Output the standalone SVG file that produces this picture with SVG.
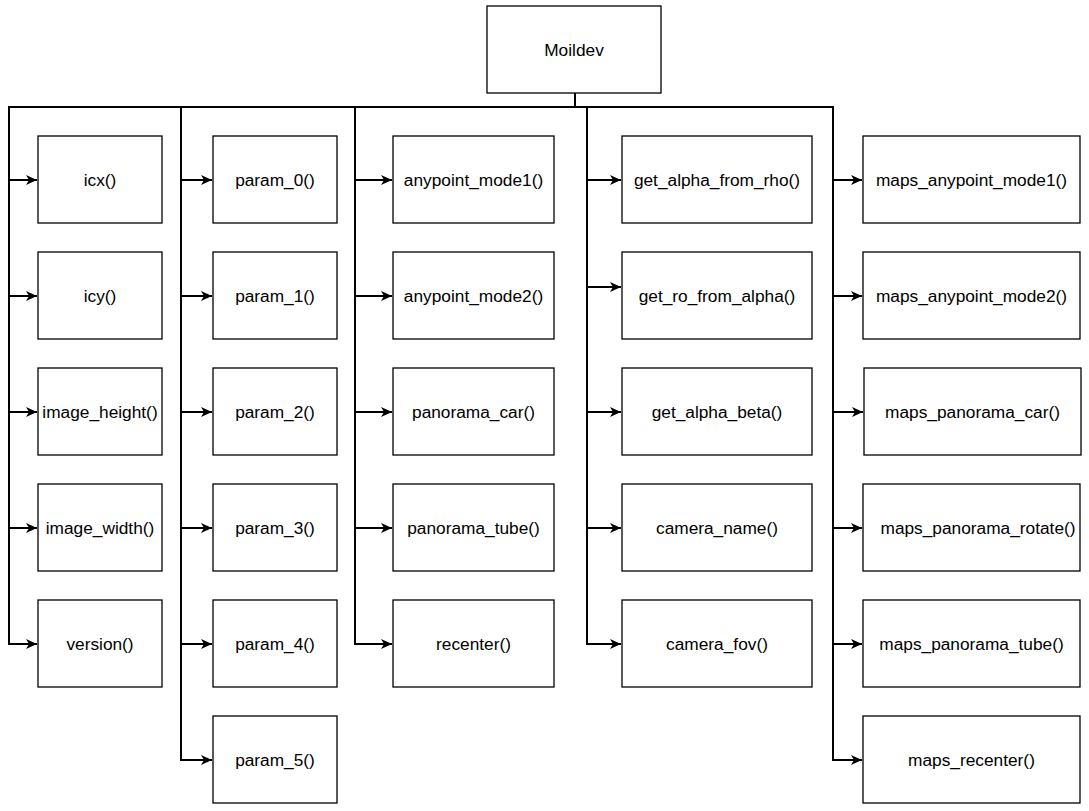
<svg xmlns="http://www.w3.org/2000/svg" width="1089" height="811" viewBox="0 0 1089 811">
<style>
.box{fill:#fff;stroke:#000;stroke-width:1.3}
.lbl{font-family:"Liberation Sans",Arial,sans-serif;font-size:17.3px;fill:#000;text-anchor:middle;dominant-baseline:central}
.edge{fill:none;stroke:#000;stroke-width:2}
</style>
<defs>
<marker id="arr" markerUnits="userSpaceOnUse" markerWidth="14" markerHeight="14" refX="12" refY="7" orient="auto">
<path d="M1,2 L12,7 L1,12 L4,7 Z" fill="#000"/>
</marker>
</defs>
<rect width="1089" height="811" fill="#fff"/>
<g id="connectors">
<path class="edge" d="M575,93 V107 H9 V180 H37" marker-end="url(#arr)"/>
<path class="edge" d="M575,93 V107 H9 V296 H37" marker-end="url(#arr)"/>
<path class="edge" d="M575,93 V107 H9 V412 H37" marker-end="url(#arr)"/>
<path class="edge" d="M575,93 V107 H9 V528 H37" marker-end="url(#arr)"/>
<path class="edge" d="M575,93 V107 H9 V644 H37" marker-end="url(#arr)"/>
<path class="edge" d="M575,93 V107 H181 V180 H212" marker-end="url(#arr)"/>
<path class="edge" d="M575,93 V107 H181 V296 H212" marker-end="url(#arr)"/>
<path class="edge" d="M575,93 V107 H181 V412 H212" marker-end="url(#arr)"/>
<path class="edge" d="M575,93 V107 H181 V528 H212" marker-end="url(#arr)"/>
<path class="edge" d="M575,93 V107 H181 V644 H212" marker-end="url(#arr)"/>
<path class="edge" d="M575,93 V107 H181 V760 H212" marker-end="url(#arr)"/>
<path class="edge" d="M575,93 V107 H355 V180 H392" marker-end="url(#arr)"/>
<path class="edge" d="M575,93 V107 H355 V296 H392" marker-end="url(#arr)"/>
<path class="edge" d="M575,93 V107 H355 V412 H392" marker-end="url(#arr)"/>
<path class="edge" d="M575,93 V107 H355 V528 H392" marker-end="url(#arr)"/>
<path class="edge" d="M575,93 V107 H355 V644 H392" marker-end="url(#arr)"/>
<path class="edge" d="M575,93 V107 H587 V180 H621" marker-end="url(#arr)"/>
<path class="edge" d="M575,93 V107 H587 V287 H621" marker-end="url(#arr)"/>
<path class="edge" d="M575,93 V107 H587 V412 H621" marker-end="url(#arr)"/>
<path class="edge" d="M575,93 V107 H587 V528 H621" marker-end="url(#arr)"/>
<path class="edge" d="M575,93 V107 H587 V644 H621" marker-end="url(#arr)"/>
<path class="edge" d="M575,93 V107 H833 V180 H862" marker-end="url(#arr)"/>
<path class="edge" d="M575,93 V107 H833 V296 H862" marker-end="url(#arr)"/>
<path class="edge" d="M575,93 V107 H833 V412 H863" marker-end="url(#arr)"/>
<path class="edge" d="M575,93 V107 H833 V528 H862" marker-end="url(#arr)"/>
<path class="edge" d="M575,93 V107 H833 V644 H862" marker-end="url(#arr)"/>
<path class="edge" d="M575,93 V107 H833 V760 H862" marker-end="url(#arr)"/>
</g>
<g id="moildev"><rect class="box" x="487" y="6" width="174" height="87"/><text class="lbl" x="574" y="49.5">Moildev</text></g>
<g id="icx"><rect class="box" x="38" y="136" width="124" height="87"/><text class="lbl" x="100" y="179.5">icx()</text></g>
<g id="icy"><rect class="box" x="38" y="252" width="124" height="87"/><text class="lbl" x="100" y="295.5">icy()</text></g>
<g id="image_height"><rect class="box" x="38" y="368" width="124" height="87"/><text class="lbl" x="100" y="411.5">image_height()</text></g>
<g id="image_width"><rect class="box" x="38" y="484" width="124" height="87"/><text class="lbl" x="100" y="527.5">image_width()</text></g>
<g id="version"><rect class="box" x="38" y="600" width="124" height="87"/><text class="lbl" x="100" y="643.5">version()</text></g>
<g id="param_0"><rect class="box" x="213" y="136" width="124" height="87"/><text class="lbl" x="275" y="179.5">param_0()</text></g>
<g id="param_1"><rect class="box" x="213" y="252" width="124" height="87"/><text class="lbl" x="275" y="295.5">param_1()</text></g>
<g id="param_2"><rect class="box" x="213" y="368" width="124" height="87"/><text class="lbl" x="275" y="411.5">param_2()</text></g>
<g id="param_3"><rect class="box" x="213" y="484" width="124" height="87"/><text class="lbl" x="275" y="527.5">param_3()</text></g>
<g id="param_4"><rect class="box" x="213" y="600" width="124" height="87"/><text class="lbl" x="275" y="643.5">param_4()</text></g>
<g id="param_5"><rect class="box" x="213" y="716" width="124" height="87"/><text class="lbl" x="275" y="759.5">param_5()</text></g>
<g id="anypoint_mode1"><rect class="box" x="393" y="136" width="161" height="87"/><text class="lbl" x="473.5" y="179.5">anypoint_mode1()</text></g>
<g id="anypoint_mode2"><rect class="box" x="393" y="252" width="161" height="87"/><text class="lbl" x="473.5" y="295.5">anypoint_mode2()</text></g>
<g id="panorama_car"><rect class="box" x="393" y="368" width="161" height="87"/><text class="lbl" x="473.5" y="411.5">panorama_car()</text></g>
<g id="panorama_tube"><rect class="box" x="393" y="484" width="161" height="87"/><text class="lbl" x="473.5" y="527.5">panorama_tube()</text></g>
<g id="recenter"><rect class="box" x="393" y="600" width="161" height="87"/><text class="lbl" x="473.5" y="643.5">recenter()</text></g>
<g id="get_alpha_from_rho"><rect class="box" x="622" y="136" width="190" height="87"/><text class="lbl" x="717" y="179.5">get_alpha_from_rho()</text></g>
<g id="get_ro_from_alpha"><rect class="box" x="622" y="252" width="190" height="87"/><text class="lbl" x="717" y="295.5">get_ro_from_alpha()</text></g>
<g id="get_alpha_beta"><rect class="box" x="622" y="368" width="190" height="87"/><text class="lbl" x="717" y="411.5">get_alpha_beta()</text></g>
<g id="camera_name"><rect class="box" x="622" y="484" width="190" height="87"/><text class="lbl" x="717" y="527.5">camera_name()</text></g>
<g id="camera_fov"><rect class="box" x="622" y="600" width="190" height="87"/><text class="lbl" x="717" y="643.5">camera_fov()</text></g>
<g id="maps_anypoint_mode1"><rect class="box" x="863" y="136" width="217" height="87"/><text class="lbl" x="971.5" y="179.5">maps_anypoint_mode1()</text></g>
<g id="maps_anypoint_mode2"><rect class="box" x="863" y="252" width="217" height="87"/><text class="lbl" x="971.5" y="295.5">maps_anypoint_mode2()</text></g>
<g id="maps_panorama_car"><rect class="box" x="864" y="368" width="217" height="87"/><text class="lbl" x="972.5" y="411.5">maps_panorama_car()</text></g>
<g id="maps_panorama_rotate"><rect class="box" x="863" y="484" width="217" height="87"/><text class="lbl" x="978" y="527.5">maps_panorama_rotate()</text></g>
<g id="maps_panorama_tube"><rect class="box" x="863" y="600" width="217" height="87"/><text class="lbl" x="971.5" y="643.5">maps_panorama_tube()</text></g>
<g id="maps_recenter"><rect class="box" x="863" y="716" width="217" height="87"/><text class="lbl" x="971.5" y="759.5">maps_recenter()</text></g>
</svg>
